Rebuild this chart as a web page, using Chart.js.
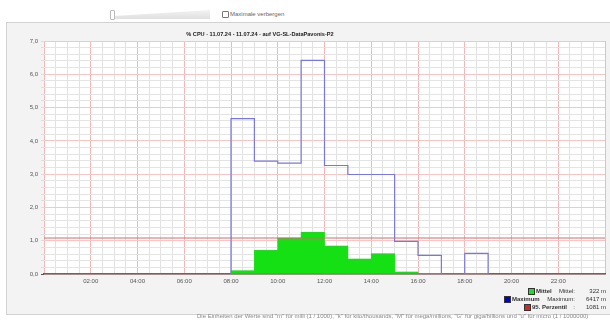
<!DOCTYPE html>
<html lang="de">
<head>
<meta charset="utf-8">
<script src="https://cdn.jsdelivr.net/npm/chart.js@4.4.1/dist/chart.umd.min.js"></script>
<style>
  body { margin: 0; width: 610px; height: 320px; overflow: hidden; background: #fff;
         font-family: "Liberation Sans", Arial, sans-serif; position: relative; }
  #slider { position: absolute; left: 110px; top: 10px; width: 100px; height: 9px;
            background: linear-gradient(#f2f2f2, #e0e0e0);
            clip-path: polygon(0 70%, 100% 0, 100% 100%, 0 100%); }
  #knob { position: absolute; left: 110px; top: 10px; width: 3px; height: 8px;
          background: #fff; border: 1px solid #bbb; border-radius: 1px; }
  #hide { position: absolute; left: 222px; top: 11px; font-size: 6px; color: #666; }
  #hide span { display: inline-block; width: 5px; height: 5px; border: 1px solid #777;
               border-radius: 1px; vertical-align: -2px; margin-right: 1px; background: #fff; }
  #panel { position: absolute; left: 6px; top: 22px; width: 610px; height: 291px;
           background: #f3f3f3; border: 1px solid #d2d2d2; }
  #chart { position: absolute; left: 6px; top: 22px; }
  #title { position: absolute; left: 0; width: 520px; top: 31px; text-align: center;
           font-size: 5.6px; font-weight: bold; color: #222; }
  .leg { position: absolute; font-size: 6px; color: #333; white-space: nowrap; }
  .leg .box { position: absolute; width: 5px; height: 5px; border: 1px solid #333; top: 0; }
  #foot { position: absolute; left: 197px; top: 313px; font-size: 6px; color: #888; white-space: nowrap; }
</style>
</head>
<body>
<div id="slider"></div><div id="knob"></div>
<div id="hide"><span></span>Maximale verbergen</div>
<div id="panel"></div>
<canvas id="chart" width="604" height="292"></canvas>
<div id="title">% CPU - 11.07.24 - 11.07.24 - auf VG-SL-DataPavonis-P2</div>
<div id="legend"></div>
<div id="foot">Die Einheiten der Werte sind "m" für milli (1 / 1000), "k" für kilo/thousands, "M" für mega/millions, "G" für giga/billions und "u" für micro (1 / 1000000)</div>
<script>
// Stundenwerte (Stunde 0..23), Mittelwert pro Stunde in % CPU
const hours = [0, 1, 2, 3, 4, 5, 6, 7, 8, 9, 10, 11, 12, 13, 14, 15, 16, 17, 18, 19, 20, 21, 22, 23];
const meanValues = [0, 0, 0, 0, 0, 0, 0, 0, 0.10, 0.71, 1.08, 1.25, 0.84, 0.45, 0.61, 0.06, 0.02, 0, 0.02, 0, 0, 0, 0, 0];

// Maximalwerte nur fuer die Stunden mit Daten
const maxHours = [8, 9, 10, 11, 12, 13, 14, 15, 16, 17, 18];
const maxValues = [4.67, 3.39, 3.33, 6.417, 3.26, 2.99, 2.99, 0.98, 0.56, 0, 0.62];

// Kennzahlen fuer die Legende (Einheit m = 1/1000)
const statNames = ["Mittel", "Maximum", "95. Perzentil"];
const statLabels = ["Mittel:", "Maximum:", ":"];
const statValues = [322, 6417, 1081];
const statColors = ["#22dd22", "#0000dd", "#cc2a2a"];

const xTickHours = [2, 4, 6, 8, 10, 12, 14, 16, 18, 20, 22];
const yTickValues = [0, 1, 2, 3, 4, 5, 6, 7];

const p95 = statValues[2] / 1000;

// Stufenlinie: beginnt und endet auf der Nulllinie
const maxPoints = [{ x: maxHours[0], y: 0 }]
  .concat(maxHours.map((h, i) => ({ x: h, y: maxValues[i] })))
  .concat([{ x: maxHours[maxHours.length - 1] + 1, y: 0 }]);

const tickVal = c => (c && c.tick) ? c.tick.value : NaN;
const isMajorX = v => Math.abs(v % 2) < 1e-6;
const isMajorY = v => Math.abs(v - Math.round(v)) < 1e-6;

const plotBg = {
  id: "plotBg",
  beforeDraw(chart) {
    const { ctx, chartArea: a } = chart;
    ctx.save();
    ctx.fillStyle = "#ffffff";
    ctx.fillRect(a.left, a.top, a.right - a.left, a.bottom - a.top);
    ctx.restore();
  }
};

new Chart(document.getElementById("chart"), {
  data: {
    datasets: [
      {
        type: "line",
        label: "95. Perzentil",
        data: [{ x: 0, y: p95 }, { x: 24, y: p95 }],
        borderColor: "#d06a6a",
        borderWidth: 1,
        pointRadius: 0,
        order: 0
      },
      {
        type: "line",
        label: "Maximum",
        data: maxPoints,
        stepped: "before",
        borderColor: "#7878dc",
        borderWidth: 1.2,
        pointRadius: 0,
        order: 1
      },
      {
        type: "bar",
        label: "Mittel",
        data: hours.map((h, i) => ({ x: h + 0.5, y: meanValues[i] })),
        backgroundColor: "#14e014",
        borderWidth: 0,
        barThickness: "flex",
        barPercentage: 1,
        categoryPercentage: 1,
        order: 2
      }
    ]
  },
  options: {
    responsive: false,
    animation: false,
    devicePixelRatio: 1,
    layout: { padding: { top: 19, right: 5, left: 0, bottom: 0 } },
    plugins: { legend: { display: false }, tooltip: { enabled: false } },
    scales: {
      x: {
        type: "linear",
        min: 0,
        max: 24,
        offset: false,
        afterFit: s => { s.height = 40; },
        afterBuildTicks: s => { s.ticks = Array.from({ length: 49 }, (_, i) => ({ value: i / 2 })); },
        ticks: {
          autoSkip: false,
          maxRotation: 0,
          padding: 4,
          color: "#555",
          font: { family: "Liberation Sans", size: 6 },
          callback: v => xTickHours.includes(v) ? String(v).padStart(2, "0") + ":00" : ""
        },
        grid: {
          offset: false,
          drawTicks: false,
          color: c => isMajorX(tickVal(c)) ? "#f2b8b8" : "#e2e2e2",
          lineWidth: 1
        },
        border: { display: true, color: "#555", width: 1.5 }
      },
      y: {
        min: 0,
        max: 7,
        afterFit: s => { s.width = 38; },
        afterBuildTicks: s => { s.ticks = Array.from({ length: 36 }, (_, i) => ({ value: i / 5 })); },
        ticks: {
          autoSkip: false,
          padding: 3,
          color: "#555",
          font: { family: "Liberation Sans", size: 6 },
          callback: v => yTickValues.some(t => Math.abs(t - v) < 1e-6) ? v.toFixed(1).replace(".", ",") : ""
        },
        grid: {
          tickLength: 3,
          color: c => isMajorY(tickVal(c)) ? "#f4c6c6" : "#e4e4e4",
          tickColor: c => tickVal(c) === 0 ? "#555" : "#ddd",
          lineWidth: 1
        },
        border: { display: false }
      }
    }
  },
  plugins: [plotBg]
});

// Legende unten rechts
const legendRows = [
  { top: 288, boxLeft: 528 },
  { top: 296, boxLeft: 504 },
  { top: 304, boxLeft: 524 }
];
const legend = document.getElementById("legend");
statNames.forEach((name, i) => {
  const r = legendRows[i];
  const row = document.createElement("div");
  row.className = "leg";
  row.style.left = r.boxLeft + "px";
  row.style.top = r.top + "px";
  row.innerHTML = '<span class="box" style="left:0;background:' + statColors[i] + '"></span>' +
    '<b style="margin-left:8px">' + name + '</b>';
  legend.appendChild(row);

  const lab = document.createElement("div");
  lab.className = "leg";
  lab.style.right = (610 - 575) + "px";
  lab.style.top = r.top + "px";
  lab.textContent = statLabels[i];
  legend.appendChild(lab);

  const val = document.createElement("div");
  val.className = "leg";
  val.style.right = "4px";
  val.style.top = r.top + "px";
  val.textContent = statValues[i] + " m";
  legend.appendChild(val);
});
</script>
</body>
</html>
